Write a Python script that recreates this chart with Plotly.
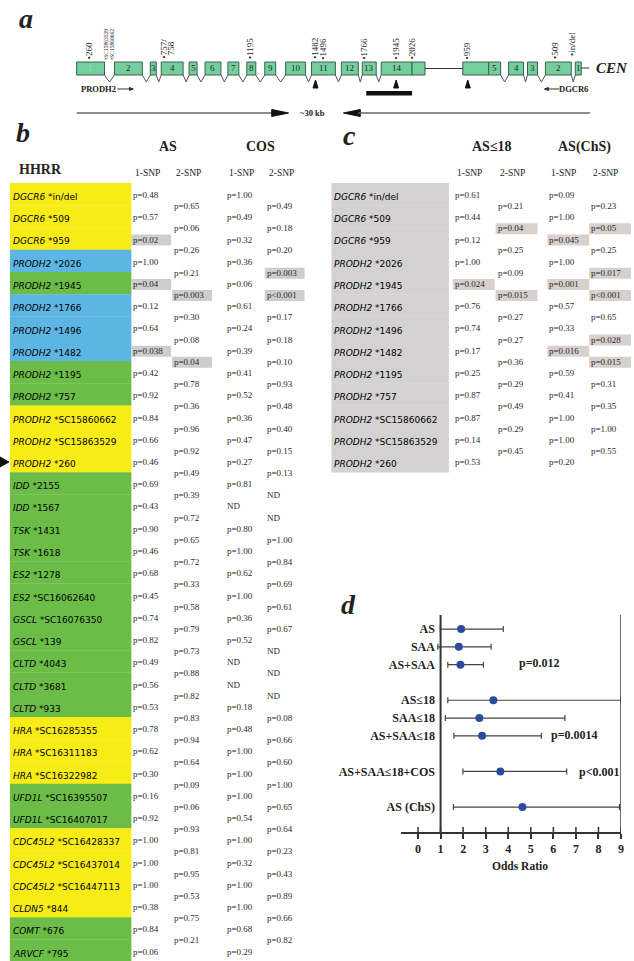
import plotly.graph_objects as go

W, H = 634, 961
SERIF = "Liberation Serif"
SANS = "DejaVu Sans"

# ---------------- data ----------------
b_genes = ["DGCR6"] * 3 + ["PRODH2"] * 10 + [
    "IDD", "IDD", "TSK", "TSK", "ES2", "ES2", "GSCL", "GSCL", "CLTD", "CLTD", "CLTD",
    "HRA", "HRA", "HRA", "UFD1L", "UFD1L", "CDC45L2", "CDC45L2", "CDC45L2", "CLDN5",
    "COMT", "ARVCF"]
b_snps = ["in/del", "509", "959", "2026", "1945", "1766", "1496", "1482", "1195", "757",
          "SC15860662", "SC15863529", "260", "2155", "1567", "1431", "1618", "1278",
          "SC16062640", "SC16076350", "139", "4043", "3681", "933", "SC16285355",
          "SC16311183", "SC16322982", "SC16395507", "SC16407017", "SC16428337",
          "SC16437014", "SC16447113", "844", "676", "795"]
b_groups = list("YYYBGBBBGGYYYGGGGGGGGGGGYYYGGYYYYGG")

as_1snp = ["0.48", "0.57", "0.02", "1.00", "0.04", "0.12", "0.64", "0.038", "0.42", "0.92",
           "0.84", "0.66", "0.46", "0.69", "0.43", "0.90", "0.46", "0.68", "0.45", "0.74",
           "0.82", "0.49", "0.56", "0.53", "0.78", "0.62", "0.30", "0.16", "0.92", "1.00",
           "1.00", "1.00", "0.38", "0.84", "0.06"]
as_2snp = ["0.65", "0.06", "0.26", "0.21", "0.003", "0.30", "0.08", "0.04", "0.78", "0.36",
           "0.96", "0.92", "0.49", "0.39", "0.72", "0.65", "0.72", "0.33", "0.58", "0.79",
           "0.73", "0.88", "0.82", "0.83", "0.94", "0.64", "0.09", "0.06", "0.93", "0.81",
           "0.95", "0.53", "0.75", "0.21"]
cos_1snp = ["1.00", "0.49", "0.32", "0.36", "0.06", "0.61", "0.24", "0.39", "0.41", "0.52",
            "0.36", "0.47", "0.27", "0.81", "ND", "0.80", "1.00", "0.62", "1.00", "0.36",
            "0.52", "ND", "ND", "0.18", "0.48", "1.00", "1.00", "1.00", "0.54", "1.00",
            "0.32", "1.00", "1.00", "0.68", "0.29"]
cos_2snp = ["0.49", "0.18", "0.20", "0.003", "<0.001", "0.17", "0.18", "0.10", "0.93", "0.48",
            "0.40", "0.15", "0.13", "ND", "ND", "1.00", "0.84", "0.69", "0.61", "0.67",
            "ND", "ND", "ND", "0.08", "0.66", "0.60", "1.00", "0.65", "0.64", "0.23",
            "0.43", "0.89", "0.66", "0.82"]
b_highlight = [{2, 4, 7}, {4, 7}, set(), {3, 4}]

c_genes = b_genes[:13]
c_snps = b_snps[:13]
asle18_1snp = ["0.61", "0.44", "0.12", "1.00", "0.024", "0.76", "0.74", "0.17", "0.25",
               "0.87", "0.87", "0.14", "0.53"]
asle18_2snp = ["0.21", "0.04", "0.25", "0.09", "0.015", "0.27", "0.27", "0.36", "0.29",
               "0.49", "0.29", "0.45"]
chs_1snp = ["0.09", "1.00", "0.045", "1.00", "0.001", "0.57", "0.33", "0.016", "0.59",
            "0.41", "1.00", "1.00", "0.20"]
chs_2snp = ["0.23", "0.05", "0.25", "0.017", "<0.001", "0.65", "0.028", "0.015", "0.31",
            "0.35", "1.00", "0.55"]
c_highlight = [{4}, {1, 4}, {2, 4, 7}, {1, 3, 4, 6, 7}]

d_labels = ["AS", "SAA", "AS+SAA", "AS≤18", "SAA≤18", "AS+SAA≤18", "AS+SAA≤18+COS", "AS (ChS)"]
d_or = [1.91, 1.81, 1.88, 3.34, 2.72, 2.84, 3.65, 4.63]
d_lo = [0.99, 0.88, 1.32, 1.32, 1.21, 1.59, 1.99, 1.57]
d_hi = [3.78, 3.24, 2.90, 9.00, 6.51, 5.47, 6.59, 8.93]
d_pvals = ["p=0.012", "p=0.0014", "p<0.001"]
d_ticks = list(range(10))

prodh2_exons = ["1", "2", "3", "4", "5", "6", "7", "8", "9", "10", "11", "12", "13", "14", ""]
dgcr6_exons = ["", "5", "4", "3", "2", "1"]
snp_marks = ["•260", "•SC15863529", "•SC15860662", "•757/", "758", "•1195", "•1482", "•1496",
             "•1766", "•1945", "•2026", "•959", "•509", "•in/del"]

# ---------------- geometry (layout only) ----------------
prodh2_pos = [(77, 105), (115, 143), (151, 157), (162, 184), (190, 198), (206, 222), (229, 240),
              (248, 257), (266, 277), (287, 307), (313, 337), (343, 360), (364, 378), (383, 414),
              (414, 427)]
dgcr6_pos = [(465, 491), (491, 503), (511, 526), (530, 540), (548, 574), (578, 584)]
snp_x = [89, 107, 113, 165, 172, 251, 317, 325, 366, 398, 414, 469, 557, 574]
BOX_TOP, BOX_BOT, V_BOT = 62, 75, 82

ROW_TOP, PITCH = 183.0, 22.25
B_COLS = [133, 174, 227, 267]
C_COLS = [456, 499, 551, 593]
GROUP_COL = {"Y": "#f8ec17", "B": "#5cb5e3", "G": "#6bbd47"}


def X(px):
    return px / W


def Y(py):
    return 1 - py / H


annotations = []
shapes = []


def text(px, py, s, size=9, family=SERIF, color="#222", xanchor="left",
         yanchor="middle", angle=0):
    annotations.append(dict(x=X(px), y=Y(py), xref="paper", yref="paper", text=s,
                            showarrow=False, xanchor=xanchor, yanchor=yanchor,
                            textangle=angle, borderpad=0,
                            font=dict(size=size, family=family, color=color)))


def rect(x0, y0, x1, y1, fill, line=None, lw=0, layer="below"):
    shapes.append(dict(type="rect", xref="paper", yref="paper", x0=X(x0), x1=X(x1),
                       y0=Y(y1), y1=Y(y0), fillcolor=fill, layer=layer,
                       line=dict(width=lw, color=line or fill)))


def path(points, color="#333", width=1, fill=None, close=False):
    d = "M " + " L ".join(f"{X(x):.5f},{Y(y):.5f}" for x, y in points)
    if close:
        d += " Z"
    shapes.append(dict(type="path", xref="paper", yref="paper", path=d,
                       line=dict(color=color, width=width),
                       fillcolor=fill if fill else "rgba(0,0,0,0)"))


def pstr(v):
    if v == "ND":
        return "ND"
    if v.startswith("<"):
        return "p" + v
    return "p=" + v


# ---------------- panel a ----------------
text(18, 18, "<b><i>a</i></b>", size=28)


def draw_gene(pos, labels):
    for i, ((x0, x1), lab) in enumerate(zip(pos, labels)):
        rect(x0, BOX_TOP, x1, BOX_BOT, "#76cd9e", line="#35664c", lw=1, layer="above")
        if lab:
            col = "#9fe0bd" if (lab == "1" and x0 < 100) else "#1d2e24"
            text((x0 + x1) / 2, (BOX_TOP + BOX_BOT) / 2, lab, size=9, xanchor="center",
                 color=col)
        if i + 1 < len(pos):
            nx0 = pos[i + 1][0]
            if nx0 - x1 > 1:
                path([(x1, BOX_BOT), ((x1 + nx0) / 2, V_BOT), (nx0, BOX_BOT)],
                     color="#555", width=1)


draw_gene(prodh2_pos, prodh2_exons)
draw_gene(dgcr6_pos, dgcr6_exons)
path([(427, (BOX_TOP + BOX_BOT) / 2), (465, (BOX_TOP + BOX_BOT) / 2)], color="#333", width=1.2)
path([(584, 68), (592, 68)], color="#333", width=1)
text(598, 68, "<b><i>CEN</i></b>", size=15)

for sx, lab in zip(snp_x, snp_marks):
    size = 5.5 if lab.startswith("•SC") else 9
    length = len(lab) * size * 0.52
    bottom = 60 if lab != "758" else 55
    text(sx, bottom - length / 2, lab, size=size, xanchor="center", angle=-90,
         color="#222")

for tx in [317, 398, 470]:
    path([(tx - 2.5, 88), (tx, 80), (tx + 2.5, 88)], color="#111", width=1, fill="#111",
         close=True)

text(80, 89, "<b>PRODH2</b>", size=8.5)
path([(118, 89), (133, 89)], color="#333", width=1)
path([(130, 87.5), (134, 89), (130, 90.5)], color="#333", width=1, fill="#333", close=True)
text(592, 89, "<b>DGCR6</b>", size=8.5, xanchor="right")
path([(548, 89), (562, 89)], color="#333", width=1)
path([(551, 87.5), (547, 89), (551, 90.5)], color="#333", width=1, fill="#333", close=True)
rect(368, 91, 414, 95.5, "#111")

path([(77, 113), (276, 113)], color="#666", width=1.5)
path([(273, 109.5), (290, 113), (273, 116.5)], color="#111", width=1, fill="#111", close=True)
text(314, 113, "<b>~30 kb</b>", size=8.5, xanchor="center")
path([(362, 109.5), (345, 113), (362, 116.5)], color="#111", width=1, fill="#111", close=True)
path([(360, 113), (593, 113)], color="#666", width=1.5)


def draw_table(genes, snps, cols_x, columns, highlights, x0, x1, bg_colors, hl_color, hl_w):
    for i in range(len(genes)):
        top = ROW_TOP + PITCH * i
        rect(x0, top, x1, top + PITCH + 0.3, bg_colors[i])
    for i, (g, s) in enumerate(zip(genes, snps)):
        top = ROW_TOP + PITCH * i
        text(x0 + 2, top + 14, f"<i>{g}</i> *{s}", size=9, family=SANS, color="#000000")
    for k, (cx, vals) in enumerate(zip(cols_x, columns)):
        two = (k % 2 == 1)
        for j, v in enumerate(vals):
            yv = ROW_TOP + PITCH * j + (23 if two else 12)
            if j in highlights[k]:
                rect(cx - 1, yv - 5, cx - 1 + hl_w, yv + 6, hl_color)
            text(cx, yv, pstr(v), size=9, color="#2a2a2a")


# ---------------- panel b ----------------
text(15, 133, "<b><i>b</i></b>", size=28)
text(18, 169, "<b>HHRR</b>", size=14)
text((B_COLS[0] + B_COLS[1]) / 2 + 15, 147, "<b>AS</b>", size=14, xanchor="center")
text((B_COLS[2] + B_COLS[3]) / 2 + 15, 147, "<b>COS</b>", size=14, xanchor="center")
for cx, lab in zip(B_COLS, ["1-SNP", "2-SNP", "1-SNP", "2-SNP"]):
    text(cx + 15.5, 173, lab, size=9.5, xanchor="center")

draw_table(b_genes, b_snps, B_COLS, [as_1snp, as_2snp, cos_1snp, cos_2snp], b_highlight,
           10, 132, [GROUP_COL[g] for g in b_groups], "#cdcdcd", 40)
path([(0, 457), (9, 462), (0, 467)], color="#111", width=1, fill="#111", close=True)

# ---------------- panel c ----------------
text(344, 135, "<b><i>c</i></b>", size=28)
text((C_COLS[0] + C_COLS[1]) / 2 + 17, 147, "<b>AS≤18</b>", size=14, xanchor="center")
text((C_COLS[2] + C_COLS[3]) / 2 + 15, 147, "<b>AS(ChS)</b>", size=14, xanchor="center")
for cx, lab in zip(C_COLS, ["1-SNP", "2-SNP", "1-SNP", "2-SNP"]):
    text(cx + 15.5, 173, lab, size=9.5, xanchor="center")

draw_table(c_genes, c_snps, C_COLS, [asle18_1snp, asle18_2snp, chs_1snp, chs_2snp],
           c_highlight, 333, 451, ["#d3d1d1"] * len(c_genes), "#d8d0cd", 42)

# ---------------- panel d ----------------
text(342, 604, "<b><i>d</i></b>", size=28)

cat_order = ["AS", "SAA", "AS+SAA", " ", "AS≤18", "SAA≤18", "AS+SAA≤18", "  ",
             "AS+SAA≤18+COS", "   ", "AS (ChS)"]

fig = go.Figure()
fig.add_trace(go.Scatter(
    x=d_or, y=d_labels, mode="markers",
    marker=dict(color="#2b4c9c", size=8),
    error_x=dict(type="data", symmetric=False,
                 array=[h - o for h, o in zip(d_hi, d_or)],
                 arrayminus=[o - l for o, l in zip(d_or, d_lo)],
                 color="#444", thickness=1.2, width=3),
    showlegend=False, hoverinfo="skip", cliponaxis=False))

D_TOP, D_BOT = 615, 832
for xv in (1, 9):
    shapes.append(dict(type="line", xref="x", yref="paper", x0=xv, x1=xv,
                       y0=Y(D_BOT), y1=Y(D_TOP),
                       line=dict(color="#333", width=2 if xv == 1 else 1.5)))
for t in d_ticks:
    shapes.append(dict(type="line", xref="x", yref="paper", x0=t, x1=t,
                       y0=Y(D_BOT), y1=Y(D_BOT - 5), line=dict(color="#333", width=1.5)))

for lab, px, py in zip(d_pvals, [520, 553, 581], [663, 735, 772]):
    text(px, py, f"<b>{lab}</b>", size=12)
text(522, 866, "<b>Odds Ratio</b>", size=11.5, xanchor="center")

fig.update_layout(
    width=W, height=H, margin=dict(l=0, r=0, t=0, b=0),
    paper_bgcolor="white", plot_bgcolor="white",
    xaxis=dict(domain=[403 / W, 624 / W], range=[-0.75, 9], tickvals=d_ticks,
               ticks="outside", ticklen=5, tickwidth=1.5, tickcolor="#333",
               showline=True, linewidth=2, linecolor="#333", showgrid=False,
               zeroline=False, anchor="y",
               tickfont=dict(family=SERIF, size=12, color="#222", weight="bold")),
    yaxis=dict(type="category", categoryorder="array", categoryarray=cat_order,
               range=[11.4, -0.79], domain=[1 - D_BOT / H, 1 - D_TOP / H],
               anchor="free", position=437 / W, showline=False, showgrid=False,
               zeroline=False, ticks="",
               tickfont=dict(family=SERIF, size=12, color="#222", weight="bold")),
    shapes=shapes, annotations=annotations,
)

fig.write_html("out.html", config={"displayModeBar": False},
               post_script="document.body.style.margin='0';"
                           "document.body.style.overflow='hidden';")
